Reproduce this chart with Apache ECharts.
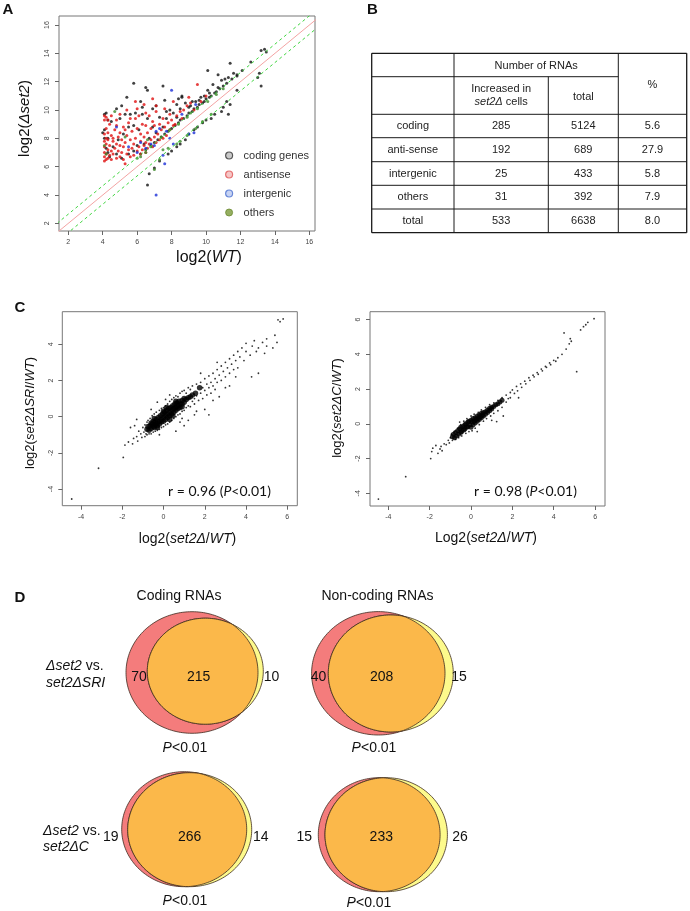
<!DOCTYPE html>
<html><head><meta charset="utf-8">
<script src="https://cdn.jsdelivr.net/npm/echarts@6/dist/echarts.min.js"></script>
<style>html,body{margin:0;padding:0;background:#fff}#c{width:690px;height:911px}</style>
</head><body><div id="c"></div><script>
// ---------- DATA ----------
// Panel A: log2(WT) vs log2(Δset2)
const aCoding = [
[6.2,6.9],[6.5,7.2],[6.8,7.5],[7.0,7.7],[7.2,7.9],[7.4,8.1],[7.6,8.3],[7.8,8.5],[8.0,8.7],[8.2,8.9],[8.4,9.1],[8.5,9.3],[8.7,9.4],[8.9,9.6],[9.0,9.8],[9.2,9.9],[9.3,10.1],[9.5,10.2],[9.6,10.4],[9.8,10.5],[9.9,10.6],[10.0,10.8],[10.2,10.9],[10.3,11.0],[10.5,11.2],[10.6,11.3],[10.8,11.5],[11.0,11.7],[11.2,11.9],[11.5,12.2],[11.8,12.4],
[8.8,10.5],[9.1,10.3],[9.4,10.6],[9.7,10.9],[10.1,11.4],[10.4,11.8],[10.9,12.1],[11.3,12.3],[8.5,10.1],[8.1,9.8],[7.7,9.4],[7.9,10.0],[8.6,10.9],[9.2,10.6],[9.9,11.0],[10.7,11.6],[11.1,12.2],[9.0,10.2],[9.6,10.7],[10.2,11.2],[8.3,9.5],[7.5,8.8],[7.1,8.4],[6.7,8.0],[6.4,7.6],
[4.1,9.7],[4.2,9.8],[4.3,9.3],[4.5,9.2],[4.8,10.1],[5.0,9.4],[5.4,10.9],[5.6,9.7],[5.8,11.9],[5.9,9.8],[6.3,9.7],[6.5,11.6],[6.6,11.4],[6.3,10.2],[6.9,10.1],[7.1,10.3],[7.5,11.7],[7.3,9.5],[7.7,9.9],[8.4,10.8],[8.6,11.0],[4.1,8.6],[4.3,8.0],[4.6,7.4],[4.9,7.9],[5.2,8.3],[5.5,8.8],[5.8,8.9],[6.1,8.6],[6.6,9.4],[6.9,8.8],[4.2,7.3],[4.4,6.7],[4.8,6.9],[5.1,6.6],[5.5,6.9],[5.8,7.1],[6.0,7.5],[4.3,7.0],[4.0,8.4],[4.1,8.0],[7.6,10.7],[8.3,10.4],[6.2,10.6],[5.3,9.7],[5.1,10.3],[10.1,12.8],[10.7,12.5],[11.8,12.5],[11.4,13.3],[12.6,13.4],[13.2,14.2],[13.4,14.3],[13.5,14.1],[12.1,12.8],[11.6,12.6],
[6.6,4.7],[6.7,5.5],[7.0,5.9],[7.3,6.4],[7.8,6.9],[8.0,7.1],[8.3,7.4],[8.5,7.6],[8.8,7.9],[9.0,8.3],[9.3,8.6],[9.5,8.8],[9.8,9.1],[10.0,9.3],[10.3,9.4],[10.5,9.7],[10.9,9.9],[11.0,10.2],[11.2,10.6],[11.3,9.7],[11.4,10.4],[13.0,12.3],[13.1,12.6],[13.2,11.7],[11.8,11.4]
];
const aAntisense = [
[4.1,6.4],[4.1,6.7],[4.1,7.0],[4.1,7.4],[4.1,7.8],[4.1,8.3],[4.1,9.3],[4.1,9.6],[4.2,6.5],[4.2,6.9],[4.2,7.6],[4.2,8.0],[4.2,8.7],[4.2,9.5],[4.3,6.6],[4.3,7.2],[4.3,7.9],[4.3,8.4],[4.4,6.8],[4.4,7.5],[4.4,9.0],[4.5,6.5],[4.5,7.1],[4.5,8.2],[4.6,6.9],[4.6,7.8],[4.7,7.3],[4.7,8.6],[4.8,6.6],[4.8,7.6],[4.8,8.9],[4.9,7.1],[4.9,8.1],[5.0,6.7],[5.0,7.5],[5.0,8.4],[5.1,7.0],[5.1,7.9],[5.2,6.5],[5.2,7.4],[5.2,8.8],[5.3,6.2],[5.3,7.7],[5.4,6.9],[5.4,8.2],[5.5,7.2],[5.5,9.1],[5.6,6.7],[5.6,7.9],[5.7,7.3],[5.7,8.5],[5.8,6.8],[5.8,7.6],[5.9,8.0],[5.9,9.4],[6.0,7.1],[6.0,8.7],[6.1,7.4],[6.1,9.6],[6.2,6.9],[6.2,7.8],[6.2,8.3],[6.3,7.2],[6.3,9.0],[6.4,7.5],[6.4,8.1],[6.5,7.0],[6.5,7.7],[6.5,8.9],[6.6,7.3],[6.6,8.4],[6.7,7.6],[6.7,9.6],[6.8,7.9],[6.8,8.7],[6.9,7.4],[6.9,9.2],[7.0,8.1],[7.0,8.9],[7.1,7.7],[7.1,9.9],[7.2,8.3],[7.3,7.9],[7.3,9.0],[7.4,8.6],[7.5,8.0],[7.5,9.4],[7.6,8.8],[7.7,8.2],[7.8,9.1],[7.9,8.6],[8.0,9.3],[8.1,8.9],[8.3,9.6],[8.5,9.9],[8.7,10.0],[8.9,10.3],[9.1,10.5],[9.5,11.8],[9.0,10.9],[5.0,9.7],[4.5,9.6],[5.4,10.0],[6.0,10.1],[6.4,10.4],[7.1,10.3],[7.6,10.1],[8.1,10.6],[6.9,10.8],[4.8,9.3],[5.6,9.4],[6.5,9.8],[5.9,10.6],[7.9,9.7],[5.3,8.6],[4.6,8.0],[4.3,9.3],[8.2,9.0],[8.6,9.4],[9.3,10.0],[9.7,10.6],[10.0,11.0]
];
const aIntergenic = [
[7.1,4.0],[7.6,6.2],[7.5,6.8],[8.0,11.4],[7.1,8.5],[7.3,8.7],[6.5,7.3],[6.8,7.6],[7.7,8.5],[8.1,7.6],[9.0,8.3],[9.3,8.4],[9.4,10.4],[8.6,9.7],[6.0,7.0],[5.5,7.4],[6.2,7.7],[7.9,8.0],[4.8,8.8],[7.0,7.5]
];
const aOthers = [
[4.1,7.5],[4.2,6.9],[6.0,6.6],[6.2,6.7],[6.5,7.0],[7.0,5.8],[7.3,6.5],[7.8,7.3],[8.5,7.8],[8.9,8.2],[9.4,8.7],[9.8,9.2],[10.3,9.7],[7.4,8.1],[7.9,8.6],[8.4,9.0],[8.9,9.5],[9.5,10.1],[10.1,10.6],[6.8,7.4],[5.3,8.1],[4.7,9.9],[6.6,7.9],[9.1,9.8],[8.3,7.6],[7.5,7.2],[10.6,11.1],[11.0,11.5]
];
const aLegend = ['coding genes','antisense','intergenic','others'];
const aTicks = [2,4,6,8,10,12,14,16];
const diagLine = [[0,0],[18,18]];
const upperLine = [[0,0.65],[18,18.65]];
const lowerLine = [[0,-0.65],[18,17.35]];

// Panel B table
const tableRows = ['coding','anti-sense','intergenic','others','total'];
const tableIncreased = [285,192,25,31,533];
const tableTotal = [5124,689,433,392,6638];
const tablePercent = ['5.6','27.9','5.8','7.9','8.0'];

// Panel C
const cTicksX = [-4,-2,0,2,4,6];
const cTicksYLeft = [-4,-2,0,2,4];
const cTicksYRight = [-4,-2,0,2,4,6];
const sriCore = [
[-0.8,-0.7],[-0.75,-0.55],[-0.7,-0.75],[-0.65,-0.5],[-0.6,-0.65],[-0.55,-0.4],[-0.5,-0.55],[-0.5,-0.25],[-0.45,-0.6],[-0.4,-0.3],[-0.4,-0.45],[-0.35,-0.15],[-0.3,-0.35],[-0.3,-0.5],[-0.25,-0.05],[-0.2,-0.25],[-0.2,-0.4],[-0.15,0.05],[-0.1,-0.15],[-0.1,-0.3],[-0.05,0.15],[0.0,-0.05],[0.0,-0.25],[0.05,0.25],[0.1,0.05],[0.1,-0.15],[0.15,0.35],[0.2,0.15],[0.2,-0.05],[0.25,0.45],[0.3,0.25],[0.3,0.05],[0.35,0.5],[0.4,0.35],[0.4,0.15],[0.45,0.6],[0.5,0.45],[0.5,0.25],[0.55,0.7],[0.6,0.5],[0.6,0.35],[0.65,0.75],[0.7,0.6],[0.7,0.45],[0.75,0.85],[0.8,0.7],[0.8,0.5],[0.9,0.9],[0.9,0.7],[1.0,1.0],[1.0,0.8],[1.1,0.95],[1.2,1.05],[1.3,1.1],[1.4,1.2],[1.55,1.3],[1.75,1.6],
[-0.6,-0.35],[-0.3,-0.6],[0.0,0.3],[0.3,-0.15],[0.6,0.85],[0.9,0.55],[-0.45,-0.1],[0.15,0.5],[0.45,0.05]
];
const sriSparse = [
[-4.45,-4.55],[-3.15,-2.85],[-1.95,-2.25],[-1.87,-1.57],[-1.7,-1.4],[-1.5,-1.5],[-1.45,-1.2],[-1.3,-0.15],[-1.3,-1.1],[-1.25,-1.35],[-1.2,-0.8],[-1.1,-0.95],[-1.05,-1.15],[-1.0,-0.6],[-0.95,-0.85],[-0.9,-1.1],[-0.9,-0.45],[-0.85,-0.95],[-0.8,-0.3],[-0.8,-1.0],[-0.75,-0.2],[-0.7,-0.95],[-0.65,-0.1],[-0.6,-0.95],[-0.55,0.05],[-0.5,-0.85],[-0.45,0.15],[-0.4,-0.8],[-0.35,0.25],[-0.3,-0.75],[-0.2,0.35],[-0.2,-0.7],[-0.1,0.45],[-0.1,-0.6],[0.0,0.5],[0.0,-0.55],[0.1,0.6],[0.1,-0.45],[0.2,0.7],[0.2,-0.4],[0.3,0.85],[0.3,-0.3],[0.4,0.95],[0.4,-0.2],[0.5,1.05],[0.5,-0.1],[0.6,1.15],[0.6,0.0],[0.7,1.1],[0.7,0.1],[0.8,1.3],[0.8,0.15],[0.9,1.4],[0.9,0.3],[1.0,1.45],[1.0,0.35],[1.1,1.3],[1.1,0.5],[1.2,1.6],[1.2,0.6],[1.3,0.55],[1.3,1.5],[1.4,0.85],[1.4,1.7],[1.5,1.0],[1.5,0.7],[1.6,1.8],[1.6,1.15],[1.7,0.9],[1.8,1.9],[1.8,1.3],[1.9,1.6],[1.9,1.0],[2.0,2.1],[2.0,1.45],[2.1,1.8],[2.1,1.2],[2.2,2.25],[2.2,1.6],[2.2,0.1],[2.3,1.9],[2.3,1.3],[2.4,2.4],[2.4,1.7],[2.5,2.1],[2.5,1.5],[2.6,2.6],[2.6,1.9],[2.7,2.3],[2.7,1.1],[2.8,2.8],[2.8,2.0],[2.9,2.5],[3.0,3.0],[3.0,2.2],[3.1,2.7],[3.2,3.2],[3.2,2.4],[3.2,1.7],[3.3,2.9],[3.4,3.4],[3.4,2.6],[3.5,3.1],[3.6,3.6],[3.6,2.7],[3.7,3.3],[3.8,3.8],[3.9,3.1],[4.0,3.6],[4.0,4.05],[4.2,3.4],[4.27,2.2],[4.3,3.9],[4.4,4.2],[4.5,3.6],[4.6,2.4],[4.6,3.8],[4.8,4.1],[4.9,3.5],[5.0,3.9],[5.0,4.3],[5.3,3.8],[5.4,4.5],[5.5,4.1],[5.55,5.35],[5.8,5.4],[5.65,5.25],[1.5,0.1],[2.0,0.4],[0.6,-0.8],[1.2,-0.2],[-1.6,-0.6],[-0.3,0.8],[1.0,-0.5],[-0.6,0.4],[0.3,1.2],[0.8,-0.3],[1.6,0.3],[-1.4,-0.5],[-0.2,-1.0],[2.4,0.9],[1.8,2.4],[2.6,3.0],[3.0,1.6],[3.5,2.2],[0.1,0.95],[0.9,-0.1]
];
const cCore = [
[-0.9,-0.75],[-0.85,-0.6],[-0.8,-0.8],[-0.75,-0.5],[-0.7,-0.7],[-0.65,-0.4],[-0.6,-0.6],[-0.55,-0.3],[-0.5,-0.5],[-0.5,-0.2],[-0.45,-0.45],[-0.4,-0.15],[-0.35,-0.35],[-0.3,-0.05],[-0.3,-0.3],[-0.25,0.0],[-0.2,-0.2],[-0.15,0.1],[-0.15,-0.15],[-0.1,0.15],[-0.05,-0.05],[0.0,0.2],[0.0,-0.2],[0.05,0.1],[0.1,0.3],[0.1,-0.05],[0.15,0.15],[0.2,0.35],[0.2,0.05],[0.25,0.25],[0.3,0.45],[0.3,0.15],[0.35,0.3],[0.4,0.5],[0.4,0.25],[0.45,0.4],[0.5,0.6],[0.5,0.35],[0.55,0.5],[0.6,0.65],[0.6,0.45],[0.7,0.7],[0.7,0.55],[0.8,0.8],[0.8,0.65],[0.9,0.9],[0.9,0.75],[1.0,0.95],[1.0,0.85],[1.1,1.0],[1.2,1.1],[1.3,1.15],[1.4,1.25],[1.5,1.35]
];
const cSparse = [
[-4.48,-4.33],[-3.16,-3.04],[-1.95,-2.0],[-1.9,-1.6],[-1.85,-1.4],[-1.5,-1.45],[-1.45,-1.3],[-1.4,-1.55],[-1.3,-1.15],[-1.2,-1.2],[-1.1,-0.95],[-1.05,-1.1],[-1.0,-0.8],[-0.95,-0.6],[-0.9,-0.95],[-0.8,-0.45],[-0.75,-0.9],[-0.65,-0.25],[-0.6,-0.8],[-0.5,-0.05],[-0.45,-0.7],[-0.35,0.15],[-0.25,-0.55],[-0.2,0.3],[-0.1,-0.45],[0.0,0.45],[0.05,-0.4],[0.15,0.55],[0.2,-0.25],[0.35,0.65],[0.4,-0.05],[0.5,0.8],[0.6,0.15],[0.7,0.95],[0.75,0.3],[0.9,1.1],[0.95,0.45],[1.1,1.2],[1.1,0.6],[1.24,0.13],[1.3,1.35],[1.3,0.75],[1.5,1.5],[1.5,0.95],[1.56,0.45],[1.7,1.65],[1.7,1.25],[1.8,1.45],[1.9,1.8],[1.9,1.5],[2.0,1.95],[2.1,1.75],[2.2,2.15],[2.25,1.9],[2.4,2.3],[2.45,2.1],[2.6,2.45],[2.65,2.3],[2.8,2.65],[2.85,2.5],[3.0,2.8],[3.05,2.7],[3.2,2.95],[3.25,2.85],[3.4,3.15],[3.45,3.05],[3.6,3.3],[3.65,3.25],[3.8,3.5],[3.85,3.4],[4.0,3.65],[4.1,3.6],[4.2,3.8],[4.4,4.0],[4.5,5.23],[4.6,4.3],[4.75,4.6],[4.8,4.9],[4.85,4.75],[5.11,3.0],[5.3,5.4],[5.44,5.59],[5.55,5.7],[5.65,5.84],[5.95,6.05],[1.0,0.2],[0.3,-0.45],[-0.55,0.1],[2.3,1.5],[-1.7,-1.25],[-1.6,-1.7]
];

// Panel D Venn counts
const vennTitles = ['Coding RNAs','Non-coding RNAs'];
const vennOnlyA = [70, 40, 19, 15];
const vennBoth = [215, 208, 266, 233];
const vennOnlyB = [10, 15, 14, 26];
const vennP = ['<0.01','<0.01','<0.01','<0.01'];

// ---------- LAYOUT ----------
const F = '"Liberation Sans", Arial, Helvetica, sans-serif';
const vennGeo = [
  {red:[192,672.5,66,60.8], yel:[205.3,671.2,58,53], a:[139,677.3], b:[198.7,677.3], c:[271.5,677.3], p:[185,748.3]},
  {red:[378.3,673.3,66.7,61.7], yel:[390.8,673.5,62.5,58.5], a:[318.5,677.3], b:[381.7,677.3], c:[459,677.3], p:[374,748.3]},
  {red:[184.2,829.2,62.5,57.5], yel:[189.7,829.7,62,57], a:[110.8,836.7], b:[189.7,836.7], c:[260.7,836.7], p:[185,900.7]},
  {red:[379.2,834.7,60.9,57], yel:[386.2,834.7,61.2,57], a:[304.2,836.7], b:[381.3,836.7], c:[460,836.7], p:[369,903.3]}
];

function valAxis(gi, min, max, ticks, isY) {
  return {
    gridIndex: gi, type: 'value', min: min, max: max,
    axisLine: {show: false, onZero: false}, splitLine: {show: false},
    axisTick: {show: true, customValues: ticks, length: 4, lineStyle: {color: '#666', width: 1}},
    axisLabel: {customValues: ticks, fontSize: 7, color: '#444', fontFamily: F, margin: 8, rotate: isY ? 90 : 0}
  };
}
function hidden(gi, min, max, inv) {
  return {gridIndex: gi, type: 'value', min: min, max: max, inverse: !!inv, show: false, splitLine:{show:false}, axisLine:{onZero:false}};
}
const gridBase = {show: true, borderColor: '#777', borderWidth: 1, containLabel: false, outerBoundsMode: 'none', backgroundColor: 'transparent'};

function rt(x, y, text, size, opts) {
  opts = opts || {};
  const fam = opts.family || F, col = opts.color || '#111', fw = opts.bold ? 'bold' : 'normal';
  return {
    type: 'text', x: x, y: y, rotation: opts.rot || 0, silent: true,
    style: {
      text: text, x: 0, y: 0, textAlign: opts.align || 'center', verticalAlign: 'middle', textVerticalAlign: 'middle',
      fontSize: size, fontFamily: fam, fontWeight: fw, fill: col,
      rich: {i: {fontStyle: 'italic', fontSize: size, fontFamily: fam, fontWeight: fw, fill: col},
             n: {fontSize: size, fontFamily: fam, fontWeight: fw, fill: col}}
    }
  };
}

// table graphics
const colX = [371.7, 454, 548.3, 618.3, 686.7];
const rowY = [53.3, 76.7, 114.3, 137.7, 161.7, 185.3, 209, 232.7];
const tbl = [];
function ln(x1,y1,x2,y2,w){ tbl.push({type:'line', silent:true, shape:{x1,y1,x2,y2}, style:{stroke:'#1a1a1a', lineWidth:w||1}}); }
ln(colX[0],rowY[0],colX[4],rowY[0],1.3); ln(colX[0],rowY[7],colX[4],rowY[7],1.3);
ln(colX[0],rowY[0],colX[0],rowY[7],1.3); ln(colX[4],rowY[0],colX[4],rowY[7],1.3);
ln(colX[0],rowY[1],colX[3],rowY[1]);
for (let r = 2; r < 7; r++) ln(colX[0],rowY[r],colX[4],rowY[r]);
ln(colX[1],rowY[0],colX[1],rowY[7]); ln(colX[3],rowY[0],colX[3],rowY[7]); ln(colX[2],rowY[1],colX[2],rowY[7]);
const tc = (c) => (colX[c] + colX[c+1]) / 2;
tbl.push(rt((colX[1]+colX[3])/2, 65.5, '{n|Number of RNAs}', 11, {color:'#222'}));
tbl.push(rt(tc(3), 85, '{n|%}', 11, {color:'#222'}));
tbl.push(rt(tc(1), 89.3, '{n|Increased in}', 11, {color:'#222'}));
tbl.push(rt(tc(1), 101.7, '{i|set2Δ}{n| cells}', 11, {color:'#222'}));
tbl.push(rt(tc(2), 96.5, '{n|total}', 11, {color:'#222'}));
tableRows.forEach((name, r) => {
  const y = (rowY[r+2] + rowY[r+3]) / 2;
  tbl.push(rt(tc(0), y, '{n|' + name + '}', 11, {color:'#222'}));
  tbl.push(rt(tc(1), y, '{n|' + tableIncreased[r] + '}', 11, {color:'#222'}));
  tbl.push(rt(tc(2), y, '{n|' + tableTotal[r] + '}', 11, {color:'#222'}));
  tbl.push(rt(tc(3), y, '{n|' + tablePercent[r] + '}', 11, {color:'#222'}));
});

const texts = [
  rt(8, 10, '{n|A}', 15, {bold:true}), rt(372.5, 10, '{n|B}', 15, {bold:true}),
  rt(20, 307.5, '{n|C}', 15, {bold:true}), rt(20, 597.5, '{n|D}', 15, {bold:true}),
  rt(209, 258, '{n|log2(}{i|WT}{n|)}', 16),
  rt(25, 118.5, '{n|log2(}{i|Δset2}{n|)}', 15, {rot: Math.PI/2}),
  rt(187.5, 539, '{n|log2(}{i|set2Δ}{n|/}{i|WT}{n|)}', 14),
  rt(486, 538, '{n|Log2(}{i|set2Δ}{n|/}{i|WT}{n|)}', 14),
  rt(30, 413, '{n|log2(}{i|set2ΔSRI}{n|/}{i|WT}{n|)}', 13, {rot: Math.PI/2}),
  rt(337, 408, '{n|log2(}{i|set2ΔC}{n|/}{i|WT}{n|)}', 13, {rot: Math.PI/2}),
  rt(219.5, 491, '{n|r = 0.96 (}{i|P}{n|<0.01)}', 14, {family:'Lato, "Open Sans", sans-serif'}),
  rt(525.5, 491.5, '{n|r = 0.98 (}{i|P}{n|<0.01)}', 14, {family:'Lato, "Open Sans", sans-serif'}),
  rt(179, 596, '{n|' + vennTitles[0] + '}', 14), rt(377.5, 596, '{n|' + vennTitles[1] + '}', 14),
  rt(46, 666, '{i|Δset2}{n| vs.}', 14, {align:'left'}), rt(46, 682.7, '{i|set2ΔSRI}', 14, {align:'left'}),
  rt(43, 830.7, '{i|Δset2}{n| vs.}', 14, {align:'left'}), rt(43, 846.7, '{i|set2ΔC}', 14, {align:'left'})
];

function renderVenn(params, api) {
  const i = params.dataIndex, g = vennGeo[i];
  const N = 180;
  const ell = (e) => { const p = []; for (let k = 0; k < N; k++) { const t = k / N * Math.PI * 2; p.push([e[0] + e[2]*Math.cos(t), e[1] + e[3]*Math.sin(t)]); } return p; };
  const inside = (p, e) => Math.pow((p[0]-e[0])/e[2], 2) + Math.pow((p[1]-e[1])/e[3], 2) <= 1.0001;
  const rp = ell(g.red), yp = ell(g.yel);
  let inter = rp.filter(p => inside(p, g.yel)).concat(yp.filter(p => inside(p, g.red)));
  const mx = inter.reduce((s,p)=>s+p[0],0)/inter.length, my = inter.reduce((s,p)=>s+p[1],0)/inter.length;
  inter.sort((a,b) => Math.atan2(a[1]-my, a[0]-mx) - Math.atan2(b[1]-my, b[0]-mx));
  const px = (pts) => pts.map(p => api.coord(p));
  const st = '#3d2b1f';
  const txt = (pos, text) => ({
    type: 'text', x: api.coord(pos)[0], y: api.coord(pos)[1],
    style: {text: text, textAlign: 'center', verticalAlign: 'middle', fontSize: 14, fontFamily: F, fill: '#111',
      rich: {i: {fontStyle:'italic', fontSize:14, fontFamily:F, fill:'#111'}, n: {fontSize:14, fontFamily:F, fill:'#111'}}}
  });
  return {type: 'group', children: [
    {type:'polygon', shape:{points: px(rp)}, style:{fill:'#f47c7c', stroke: st, lineWidth: 0.8}},
    {type:'polygon', shape:{points: px(yp)}, style:{fill:'#fdfa8c', stroke: st, lineWidth: 0.8}},
    {type:'polygon', shape:{points: px(inter)}, style:{fill:'#fbb84a', stroke: st, lineWidth: 0.8}},
    txt(g.a, '{n|' + vennOnlyA[i] + '}'),
    txt(g.b, '{n|' + vennBoth[i] + '}'),
    txt(g.c, '{n|' + vennOnlyB[i] + '}'),
    txt(g.p, '{i|P}{n|' + vennP[i] + '}')
  ]};
}

const legendItem = (name, stroke, fill) => ({name: name, itemStyle: {color: fill, borderColor: stroke, borderWidth: 1.2}});

const option = {
  animation: false,
  backgroundColor: '#fff',
  grid: [
    Object.assign({left: 59, top: 16, width: 256, height: 215}, gridBase),
    Object.assign({left: 62.3, top: 311.7, width: 235, height: 194}, gridBase),
    Object.assign({left: 370, top: 311.7, width: 235, height: 194.3}, gridBase),
    {left: 0, top: 0, width: 690, height: 911, show: false, containLabel: false, outerBoundsMode: 'none'}
  ],
  xAxis: [
    valAxis(0, 1.46, 16.33, aTicks, false),
    valAxis(1, -4.906, 6.485, cTicksX, false),
    valAxis(2, -4.887, 6.48, cTicksX, false),
    hidden(3, 0, 690, false)
  ],
  yAxis: [
    valAxis(0, 1.46, 16.64, aTicks, true),
    valAxis(1, -4.92, 5.80, cTicksYLeft, true),
    valAxis(2, -4.73, 6.45, cTicksYRight, true),
    hidden(3, 0, 911, true)
  ],
  legend: {
    left: 220, top: 144, orient: 'vertical', itemWidth: 7, itemHeight: 7, itemGap: 6, icon: 'circle',
    selectedMode: false,
    textStyle: {fontSize: 11, color: '#333', fontFamily: F, lineHeight: 13, padding: [0,0,0,6]},
    data: [
      legendItem(aLegend[0], '#333', '#bbb'),
      legendItem(aLegend[1], '#e05555', '#f4b8b8'),
      legendItem(aLegend[2], '#4a6fd0', '#b9c8f0'),
      {name: aLegend[3], itemStyle: {color: '#7a9a3a', borderColor: '#6a8a30', borderWidth: 1}}
    ]
  },
  graphic: {elements: tbl.concat(texts)},
  series: [
    {type:'line', xAxisIndex:0, yAxisIndex:0, data: diagLine, symbol:'none', silent:true, lineStyle:{color:'#f3a3a3', width:1}},
    {type:'line', xAxisIndex:0, yAxisIndex:0, data: upperLine, symbol:'none', silent:true, lineStyle:{color:'#3fd43f', width:1, type:[3,3]}},
    {type:'line', xAxisIndex:0, yAxisIndex:0, data: lowerLine, symbol:'none', silent:true, lineStyle:{color:'#3fd43f', width:1, type:[3,3]}},
    {type:'scatter', name: aLegend[0], xAxisIndex:0, yAxisIndex:0, data: aCoding, symbolSize: 3, silent:true, itemStyle:{color:'#111'}},
    {type:'scatter', name: aLegend[1], xAxisIndex:0, yAxisIndex:0, data: aAntisense, symbolSize: 3, silent:true, itemStyle:{color:'#e01010'}},
    {type:'scatter', name: aLegend[2], xAxisIndex:0, yAxisIndex:0, data: aIntergenic, symbolSize: 3, silent:true, itemStyle:{color:'#1c2fd8'}},
    {type:'scatter', name: aLegend[3], xAxisIndex:0, yAxisIndex:0, data: aOthers, symbolSize: 3, silent:true, itemStyle:{color:'#3d8a2a'}},
    {type:'scatter', xAxisIndex:1, yAxisIndex:1, data: sriCore, symbolSize: 5.5, silent:true, itemStyle:{color:'#000'}},
    {type:'scatter', xAxisIndex:1, yAxisIndex:1, data: sriSparse, symbolSize: 1.8, silent:true, itemStyle:{color:'#000'}},
    {type:'scatter', xAxisIndex:2, yAxisIndex:2, data: cCore, symbolSize: 5, silent:true, itemStyle:{color:'#000'}},
    {type:'scatter', xAxisIndex:2, yAxisIndex:2, data: cSparse, symbolSize: 1.8, silent:true, itemStyle:{color:'#000'}},
    {type:'custom', xAxisIndex:3, yAxisIndex:3, data: vennBoth.map((v, i) => [i, v]), renderItem: renderVenn, clip: false, silent: true}
  ]
};
const chart = echarts.init(document.getElementById('c'), null, {renderer: 'canvas'});
chart.setOption(option);
</script></body></html>
